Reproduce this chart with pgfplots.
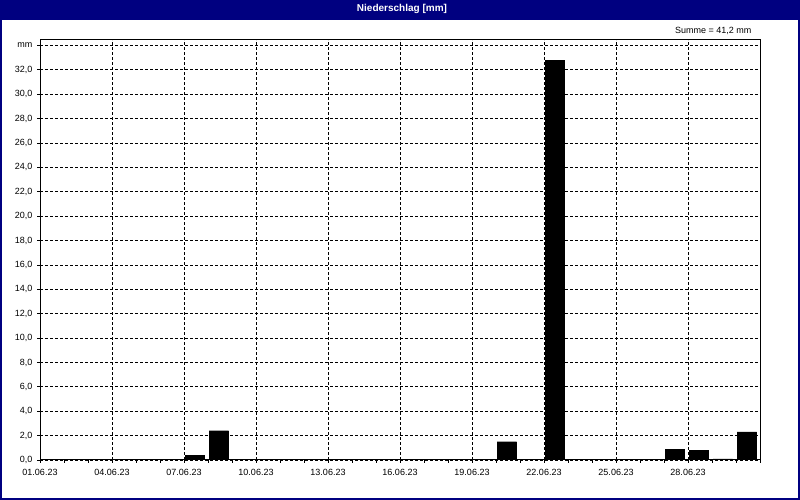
\documentclass[border=0pt]{standalone}
\usepackage{fontspec}
\setmainfont{Liberation Sans}
\usepackage{pgfplots}
\pgfplotsset{compat=1.18}
\definecolor{titlenavy}{HTML}{000080}

\begin{document}
\begin{tikzpicture}
  % canvas: 1pt = 1px
  \path[use as bounding box] (0,0) rectangle (800pt,500pt);
  \fill[white] (0,0) rectangle (800pt,500pt);
  \fill[titlenavy] (0,480pt) rectangle (800pt,500pt);
  \node[text=white, font=\fontsize{10}{12}\selectfont\bfseries]
    at (402pt,491pt) {Niederschlag [mm]};
  \node[anchor=east, font=\fontsize{9}{11}\selectfont]
    at (755pt,469pt) {Summe = 41,2 mm};

  \begin{axis}[
      at={(40pt,40pt)},
      anchor=south west,
      scale only axis,
      width=720pt,
      height=420pt,
      xmin=0, xmax=30,
      ymin=0, ymax=34.45,
      axis line style={black, line width=1pt},
      xtick={0,3,...,27},
      xticklabels={01.06.23,04.06.23,07.06.23,10.06.23,13.06.23,
                   16.06.23,19.06.23,22.06.23,25.06.23,28.06.23},
      minor xtick={0,1,...,30},
      ytick={0,2,...,34},
      yticklabels={{0,0},{2,0},{4,0},{6,0},{8,0},{10,0},{12,0},{14,0},
                   {16,0},{18,0},{20,0},{22,0},{24,0},{26,0},{28,0},
                   {30,0},{32,0},mm},
      tick pos=left,
      tick align=outside,
      major tick length=3pt,
      minor tick length=3pt,
      tick style={black, line width=0.8pt},
      grid=major,
      grid style={black, line width=0.8pt, dash pattern=on 3pt off 2pt},
      tick label style={font=\fontsize{9}{11}\selectfont},
      /pgf/number format/assume math mode=true,
      xticklabel style={yshift=-3pt},
      yticklabel style={xshift=-1pt},
      ybar,
      bar width=19.5pt,
      bar shift=10.8pt,
    ]
    \addplot[fill=black, draw=black] coordinates {
      (6,0.4) (7,2.4) (19,1.5) (21,32.8)
      (26,0.9) (27,0.8) (28,0.1) (29,2.3)
    };
  \end{axis}

  \draw[titlenavy, line width=2pt] (1pt,1pt) rectangle (799pt,499pt);
\end{tikzpicture}
\end{document}
